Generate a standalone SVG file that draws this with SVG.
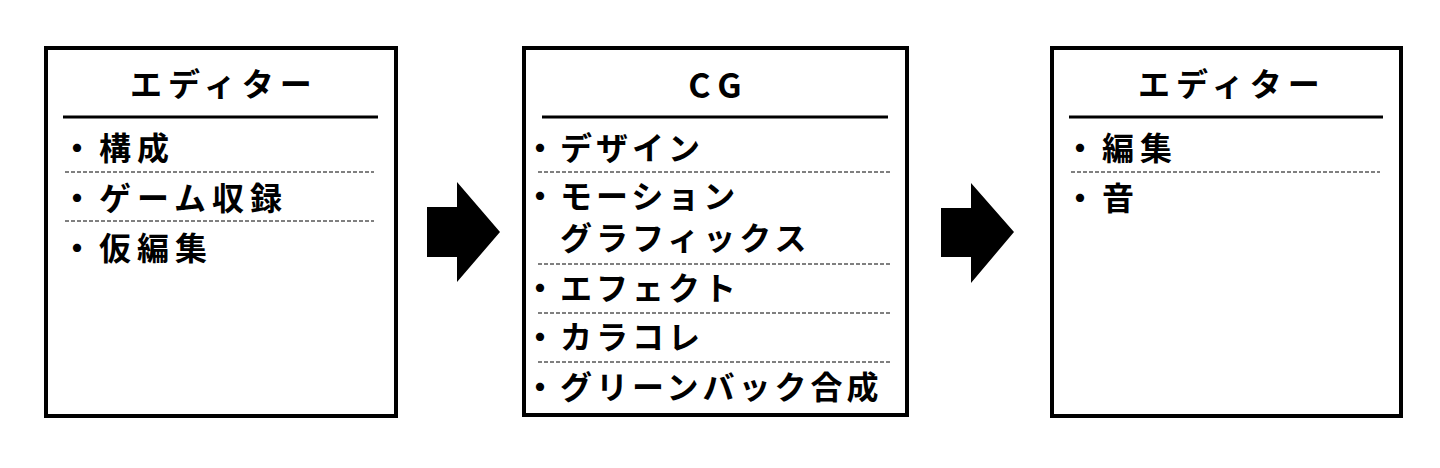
<svg xmlns="http://www.w3.org/2000/svg" width="1440" height="468" viewBox="0 0 1440 468">
<style>
.box{fill:#fff;stroke:#000;stroke-width:4}
.hl{stroke:#000;stroke-width:3}
.dl{stroke:#000;stroke-width:1;stroke-dasharray:4 2}
text{font-family:"Noto Sans CJK JP","Noto Sans",sans-serif;font-weight:bold;fill:#000}
.h{font-size:32px;letter-spacing:6px;text-anchor:middle}
.cg{font-size:34px;letter-spacing:8px;text-anchor:middle}
.i{font-size:32px;letter-spacing:4px}
.w{letter-spacing:6px}
.arrow{fill:#000}
</style>
<rect width="1440" height="468" fill="#fff"/>
<g id="node-editor1">
<rect class="box" x="46" y="48" width="350" height="368"/>
<text class="h" x="224" y="96">エディター</text>
<line class="hl" x1="63" y1="117" x2="378" y2="117"/>
<text class="i w" x="61" y="160">・構成</text>
<line class="dl" x1="65" y1="172" x2="374" y2="172"/>
<text class="i w" x="61" y="210">・ゲーム収録</text>
<line class="dl" x1="65" y1="221" x2="374" y2="221"/>
<text class="i w" x="61" y="260">・仮編集</text>
</g>
<g id="node-cg">
<rect class="box" x="524" y="48" width="383" height="367"/>
<text class="cg" x="719" y="98">CG</text>
<line class="hl" x1="542" y1="117" x2="888" y2="117"/>
<text class="i" x="524" y="160">・デザイン</text>
<line class="dl" x1="538" y1="172" x2="890" y2="172"/>
<text class="i" x="524" y="208">・モーション</text>
<text class="i" x="560" y="250">グラフィックス</text>
<line class="dl" x1="538" y1="264" x2="890" y2="264"/>
<text class="i" x="524" y="300">・エフェクト</text>
<line class="dl" x1="538" y1="313" x2="890" y2="313"/>
<text class="i" x="524" y="349">・カラコレ</text>
<line class="dl" x1="538" y1="362" x2="890" y2="362"/>
<text class="i" x="524" y="399">・グリーンバック合成</text>
</g>
<g id="node-editor2">
<rect class="box" x="1052" y="48" width="349" height="368"/>
<text class="h" x="1232" y="96">エディター</text>
<line class="hl" x1="1069" y1="117" x2="1383" y2="117"/>
<text class="i w" x="1064" y="160">・編集</text>
<line class="dl" x1="1071" y1="172" x2="1380" y2="172"/>
<text class="i w" x="1064" y="210">・音</text>
</g>
<g id="connectors">
<polygon class="arrow" points="427,207 457,207 457,182 500,232 457,282 457,257 427,257"/>
<polygon class="arrow" points="941,208 971,208 971,183 1014,232 971,283 971,257 941,257"/>
</g>
</svg>
